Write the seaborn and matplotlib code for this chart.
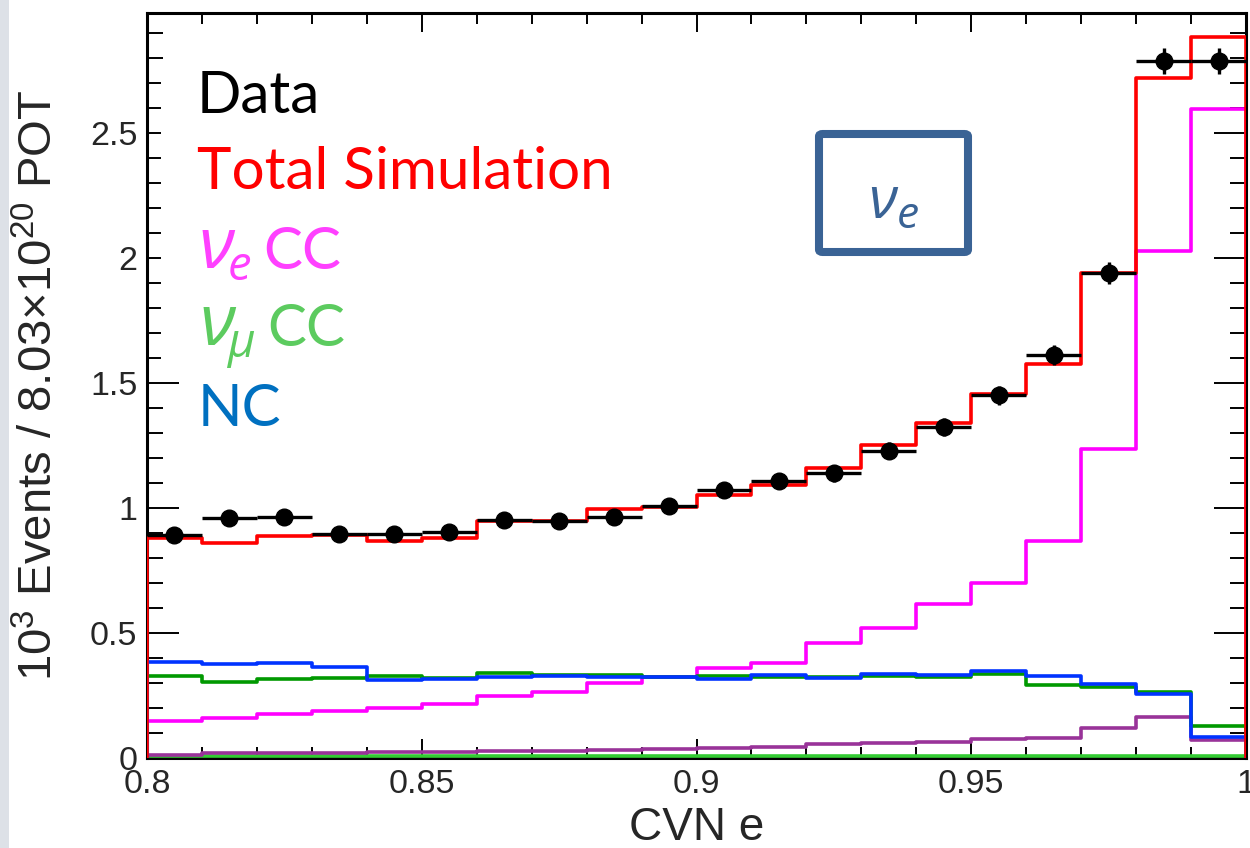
import numpy as np
import pandas as pd
import matplotlib
matplotlib.use("Agg")
import matplotlib.pyplot as plt
import seaborn as sns
from matplotlib.ticker import MultipleLocator, FuncFormatter
from matplotlib.patches import FancyBboxPatch, Rectangle

# ---- binned CVN e distribution (10^3 events per bin) ----
bin_edges = [round(0.80 + 0.01 * i, 2) for i in range(21)]
bin_centers = [round(0.805 + 0.01 * i, 3) for i in range(20)]

data_counts = [0.894, 0.959, 0.963, 0.896, 0.896, 0.903, 0.952, 0.949, 0.965, 1.009,
               1.072, 1.109, 1.139, 1.229, 1.325, 1.452, 1.612, 1.939, 2.788, 2.788]
data_errors = [0.030, 0.031, 0.031, 0.030, 0.030, 0.030, 0.031, 0.031, 0.031, 0.032,
               0.033, 0.033, 0.034, 0.035, 0.036, 0.038, 0.040, 0.044, 0.053, 0.053]
total_sim = [0.879, 0.861, 0.888, 0.891, 0.869, 0.879, 0.949, 0.949, 0.995, 1.005,
             1.052, 1.091, 1.159, 1.252, 1.339, 1.456, 1.576, 1.941, 2.721, 2.883]
nue_cc = [0.148, 0.161, 0.175, 0.188, 0.199, 0.215, 0.249, 0.265, 0.299, 0.325,
          0.359, 0.379, 0.459, 0.519, 0.616, 0.701, 0.869, 1.235, 2.029, 2.596]
numu_cc = [0.329, 0.305, 0.316, 0.320, 0.330, 0.322, 0.341, 0.331, 0.333, 0.325,
           0.328, 0.325, 0.325, 0.327, 0.324, 0.336, 0.292, 0.285, 0.265, 0.129]
nc = [0.385, 0.375, 0.379, 0.365, 0.313, 0.317, 0.325, 0.328, 0.325, 0.323,
      0.317, 0.332, 0.321, 0.335, 0.331, 0.348, 0.328, 0.297, 0.255, 0.084]
beam_nue = [0.012, 0.020, 0.020, 0.021, 0.023, 0.025, 0.027, 0.027, 0.032, 0.035,
            0.041, 0.045, 0.057, 0.059, 0.065, 0.075, 0.081, 0.119, 0.165, 0.072]
cosmic = [0.010, 0.010, 0.010, 0.010, 0.010, 0.010, 0.010, 0.010, 0.010, 0.010,
          0.010, 0.010, 0.010, 0.010, 0.010, 0.010, 0.010, 0.010, 0.010, 0.010]

x_ticks = [0.8, 0.85, 0.9, 0.95, 1.0]
y_ticks = [0, 0.5, 1, 1.5, 2, 2.5]

W, H = 1250, 848
sns.set_style("ticks")
plt.rcParams["font.family"] = ["Liberation Sans", "DejaVu Sans"]
plt.rcParams["mathtext.default"] = "regular"

fig = plt.figure(figsize=(W / 100, H / 100), dpi=100)
ax = fig.add_axes([147 / W, 1 - 758 / H, (1246 - 147) / W, (758 - 12.5) / H])

lw = 2.6
series = [
    (cosmic, "#33cc33"),
    (beam_nue, "#993399"),
    (nue_cc, "#ff00ff"),
    (numu_cc, "#009900"),
    (nc, "#0033ff"),
    (total_sim, "#ff0000"),
]
for i, (vals, col) in enumerate(series):
    df = pd.DataFrame({"cvn": bin_centers, "events": vals})
    sns.histplot(data=df, x="cvn", weights="events", bins=bin_edges, element="step",
                 fill=False, color=col, linewidth=lw, ax=ax)
    ax.lines[-1].set_zorder(3 + i * 0.1)
    ax.vlines([bin_edges[0], bin_edges[-1]], 0, [vals[0], vals[-1]],
              colors=col, linewidth=lw, zorder=3 + i * 0.1)

ax.errorbar(bin_centers, data_counts, xerr=0.005, yerr=data_errors, fmt="o",
            color="black", markersize=12, elinewidth=2.4, capsize=0, zorder=5)

ax.set_xlim(0.8, 1.0)
ax.set_ylim(0, 2.982)
ax.set_xticks(x_ticks)
ax.set_yticks(y_ticks)
ax.xaxis.set_minor_locator(MultipleLocator(0.01))
ax.yaxis.set_minor_locator(MultipleLocator(0.1))
fmt = FuncFormatter(lambda v, p: f"{v:g}")
ax.xaxis.set_major_formatter(fmt)
ax.yaxis.set_major_formatter(fmt)

for s in ax.spines.values():
    s.set_visible(True)
    s.set_linewidth(2.2)
    s.set_color("black")

ax.tick_params(which="both", direction="in", top=True, right=True,
               width=1.4, color="black", labelsize=24.5)
ax.tick_params(axis="y", which="major", length=23, pad=7)
ax.tick_params(axis="y", which="minor", length=11.5)
ax.tick_params(axis="x", which="major", length=14, pad=8)
ax.tick_params(axis="x", which="minor", length=8)

ax.set_xlabel("CVN e", fontsize=33)
ax.set_ylabel(r"10$^{3}$ Events / 8.03×10$^{20}$ POT", fontsize=34)
ax.xaxis.set_label_coords(0.5, -0.064)
ax.yaxis.set_label_coords(-0.077, 0.5)


def px_text(x, y, s, **kw):
    return fig.text(x / W, 1 - y / H, s, va="baseline", ha="left", **kw)


# white legend panel laid over the top-left tick marks
fig.add_artist(Rectangle((161 / W, 1 - 380 / H), (650 - 161) / W, (380 - 66) / H,
                         transform=fig.transFigure, facecolor="white",
                         edgecolor="none", zorder=1))

# slide background strip on the far left
fig.add_artist(Rectangle((0, 0), 9 / W, 1, transform=fig.transFigure,
                         facecolor="#dde1e7", edgecolor="none", zorder=1))

leg_font = ["Lato", "Open Sans", "DejaVu Sans"]
greek_font = ["Open Sans", "Noto Sans", "DejaVu Sans"]
leg_size = 42

px_text(197, 113, "Data", color="black", fontsize=leg_size, family=leg_font, zorder=2)
px_text(197, 189, "Total Simulation", color="#ff0000", fontsize=leg_size,
        family=leg_font, zorder=2)

pink = "#ff40ff"
px_text(198, 268, "ν", color=pink, fontsize=52, style="italic", family=greek_font, zorder=2)
px_text(228, 280, "e", color=pink, fontsize=34, style="italic", family=greek_font, zorder=2)
px_text(263, 269, "CC", color=pink, fontsize=leg_size, family=leg_font, zorder=2)

lgreen = "#5ccb5f"
px_text(199, 345, "ν", color=lgreen, fontsize=52, style="italic", family=greek_font, zorder=2)
px_text(227, 357, "μ", color=lgreen, fontsize=34, style="italic", family=greek_font, zorder=2)
px_text(267, 346, "CC", color=lgreen, fontsize=leg_size, family=leg_font, zorder=2)

px_text(198, 426, "NC", color="#0070c0", fontsize=leg_size, family=leg_font, zorder=2)

# neutrino-flavour label box
box_col = "#3a6395"
fig.add_artist(FancyBboxPatch((819 / W, 1 - 252 / H), (968 - 819) / W, (252 - 134) / H,
                              boxstyle="round,pad=0,rounding_size=0.003",
                              transform=fig.transFigure, facecolor="white",
                              edgecolor=box_col, linewidth=5.8, zorder=2))
px_text(868, 218, "ν", color=box_col, fontsize=42, style="italic", family=greek_font, zorder=3)
px_text(897, 228, "e", color=box_col, fontsize=32, style="italic", family=greek_font, zorder=3)

fig.savefig("out.png", dpi=100)
